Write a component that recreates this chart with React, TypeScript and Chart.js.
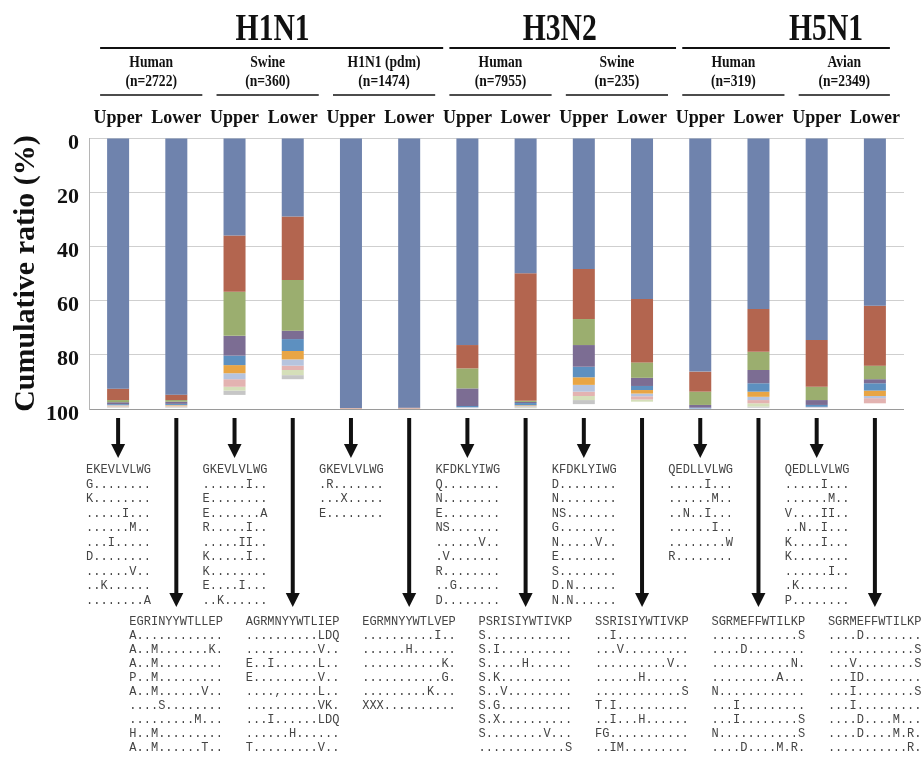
import React, { useEffect, useRef } from 'react';
import { Chart, registerables } from 'chart.js';

Chart.register(...registerables);

// ---------- data ----------
const positions = ['Upper', 'Lower', 'Upper', 'Lower', 'Upper', 'Lower', 'Upper', 'Lower', 'Upper', 'Lower', 'Upper', 'Lower', 'Upper', 'Lower'];

const groupNames = ['H1N1', 'H3N2', 'H5N1'];
const groupHostCounts = [3, 2, 2];
const hostNames = ['Human', 'Swine', 'H1N1 (pdm)', 'Human', 'Swine', 'Human', 'Avian'];
const hostCounts = ['(n=2722)', '(n=360)', '(n=1474)', '(n=7955)', '(n=235)', '(n=319)', '(n=2349)'];

const rank1 = [92.5, 94.7, 36.0, 29.0, 99.6, 99.5, 76.4, 49.9, 48.3, 59.4, 86.2, 63.1, 74.5, 61.9];
const rank2 = [4.2, 2.0, 20.7, 23.4, 0.2, 0.3, 8.6, 47.1, 18.5, 23.4, 7.4, 15.8, 17.3, 22.1];
const rank3 = [0.8, 0.6, 16.3, 18.7, 0, 0, 7.4, 0.4, 9.6, 5.7, 4.9, 6.7, 4.9, 5.0];
const rank4 = [0.7, 0.8, 7.3, 3.1, 0, 0, 6.5, 0.4, 8.0, 3.0, 1.0, 4.9, 1.8, 1.5];
const rank5 = [0.3, 0.4, 3.5, 4.4, 0, 0, 0.4, 0.8, 3.9, 1.5, 0.3, 3.1, 0.7, 2.7];
const rank6 = [0.1, 0.2, 3.0, 3.1, 0, 0, 0, 0.2, 2.8, 1.3, 0, 1.9, 0, 2.0];
const rank7 = [0.3, 0.2, 2.2, 2.3, 0, 0, 0.2, 0.3, 2.5, 1.0, 0.1, 1.2, 0.2, 0.8];
const rank8 = [0.2, 0.2, 2.8, 1.6, 0, 0, 0, 0.2, 1.6, 1.2, 0, 1.2, 0.1, 1.9];
const rank9 = [0.2, 0.2, 1.4, 1.9, 0, 0, 0, 0.2, 1.5, 0.8, 0, 1.2, 0, 0];
const rank10 = [0.2, 0.2, 1.6, 1.5, 0, 0, 0.2, 0.2, 1.5, 0, 0, 0.4, 0, 0];

const seriesValues = [rank1, rank2, rank3, rank4, rank5, rank6, rank7, rank8, rank9, rank10];
const seriesColors = ['#6f83ad', '#b3654f', '#9bae6f', '#7c6d93', '#5d90c0', '#e8a544', '#b6c4de', '#e3b3b1', '#d5dfb9', '#c6c6c6'];

const yTicks = [0, 20, 40, 60, 80, 100];

const upperSeqs = [
  ['EKEVLVLWG', 'G........', 'K........', '.....I...', '......M..', '...I.....', 'D........', '......V..', '..K......', '........A'],
  ['GKEVLVLWG', '......I..', 'E........', 'E.......A', 'R.....I..', '.....II..', 'K.....I..', 'K........', 'E....I...', '..K......'],
  ['GKEVLVLWG', '.R.......', '...X.....', 'E........'],
  ['KFDKLYIWG', 'Q........', 'N........', 'E........', 'NS.......', '......V..', '.V.......', 'R........', '..G......', 'D........'],
  ['KFDKLYIWG', 'D........', 'N........', 'NS.......', 'G........', 'N.....V..', 'E........', 'S........', 'D.N......', 'N.N......'],
  ['QEDLLVLWG', '.....I...', '......M..', '..N..I...', '......I..', '........W', 'R........'],
  ['QEDLLVLWG', '.....I...', '......M..', 'V....II..', '..N..I...', 'K....I...', 'K........', '......I..', '.K.......', 'P........'],
];

const lowerSeqs = [
  ['EGRINYYWTLLEP', 'A............', 'A..M.......K.', 'A..M.........', 'P..M.........', 'A..M......V..', '....S........', '.........M...', 'H..M.........', 'A..M......T..'],
  ['AGRMNYYWTLIEP', '..........LDQ', '..........V..', 'E..I......L..', 'E.........V..', '....,.....L..', '..........VK.', '...I......LDQ', '......H......', 'T.........V..'],
  ['EGRMNYYWTLVEP', '..........I..', '......H......', '...........K.', '...........G.', '.........K...', 'XXX..........'],
  ['PSRISIYWTIVKP', 'S............', 'S.I..........', 'S.....H......', 'S.K..........', 'S..V.........', 'S.G..........', 'S.X..........', 'S........V...', '............S'],
  ['SSRISIYWTIVKP', '..I..........', '...V.........', '..........V..', '......H......', '............S', 'T.I..........', '..I...H......', 'FG...........', '..IM.........'],
  ['SGRMEFFWTILKP', '............S', '....D........', '...........N.', '.........A...', 'N............', '...I.........', '...I........S', 'N...........S', '....D....M.R.'],
  ['SGRMEFFWTILKP', '....D........', '............S', '...V........S', '...ID........', '...I........S', '...I.........', '....D....M...', '....D....M.R.', '...........R.'],
];

// ---------- drawing helpers ----------
function drawText(ctx: CanvasRenderingContext2D, text: string, x: number, y: number, font: string, sx = 1, align: CanvasTextAlign = 'center', color = '#111') {
  ctx.save();
  ctx.translate(x, y);
  ctx.scale(sx, 1);
  ctx.font = font;
  ctx.fillStyle = color;
  ctx.textAlign = align;
  ctx.textBaseline = 'middle';
  ctx.fillText(text, 0, 0);
  ctx.restore();
}

function hLine(ctx: CanvasRenderingContext2D, x0: number, x1: number, y: number, w: number) {
  ctx.save();
  ctx.strokeStyle = '#111';
  ctx.lineWidth = w;
  ctx.beginPath();
  ctx.moveTo(x0, y);
  ctx.lineTo(x1, y);
  ctx.stroke();
  ctx.restore();
}

function arrow(ctx: CanvasRenderingContext2D, x: number, y0: number, y1: number) {
  ctx.save();
  ctx.fillStyle = '#111';
  ctx.strokeStyle = '#111';
  ctx.lineWidth = 4;
  ctx.beginPath();
  ctx.moveTo(x, y0);
  ctx.lineTo(x, y1 - 12);
  ctx.stroke();
  ctx.beginPath();
  ctx.moveTo(x - 7, y1 - 14);
  ctx.lineTo(x + 7, y1 - 14);
  ctx.lineTo(x, y1);
  ctx.closePath();
  ctx.fill();
  ctx.restore();
}

const figurePlugin = {
  id: 'figureAnnotations',
  afterDraw(chart: any) {
    const ctx: CanvasRenderingContext2D = chart.ctx;
    const xs = chart.scales.x;
    const px = (i: number) => xs.getPixelForValue(i);
    const lastHost = hostNames.length - 1;

    // host subgroup headers + underlines
    const ulLeft = (h: number) => px(2 * h) - 18;
    const ulRight = (h: number) => px(2 * h + 1) + (h === lastHost ? 15 : 26);
    hostNames.forEach((name, h) => {
      const c = (ulLeft(h) + ulRight(h)) / 2;
      drawText(ctx, name, c, 63, 'bold 16px "Liberation Serif"', 0.85);
      drawText(ctx, hostCounts[h], c, 82, 'bold 16px "Liberation Serif"', 0.85);
      hLine(ctx, ulLeft(h), ulRight(h), 95, 1.6);
    });

    // subtype headers + lines
    const shifts = [1, -3, 40];
    let h0 = 0;
    groupNames.forEach((g, gi) => {
      const h1 = h0 + groupHostCounts[gi] - 1;
      const left = ulLeft(h0);
      const right = ulRight(h1) + (h1 === lastHost ? 0 : 8);
      hLine(ctx, left, right, 48, 2);
      drawText(ctx, g, (left + right) / 2 + shifts[gi], 30, 'bold 38px "Liberation Serif"', 0.78);
      h0 = h1 + 1;
    });

    // arrows and sequence lists
    const mono = '12px "Liberation Mono"';
    positions.forEach((p, i) => {
      const cx = px(i);
      if (p === 'Upper') {
        arrow(ctx, cx, 418, 458);
        const rows = upperSeqs[i / 2];
        rows.forEach((r, k) => drawText(ctx, r, cx - 32, 470 + k * 14.5, mono, 1, 'left', '#444'));
      } else {
        arrow(ctx, cx, 418, 607);
        const rows = lowerSeqs[(i - 1) / 2];
        rows.forEach((r, k) => drawText(ctx, r, cx - 47, 622 + k * 14, mono, 1, 'left', '#444'));
      }
    });
  },
};

export default function App() {
  const ref = useRef<HTMLCanvasElement | null>(null);

  useEffect(() => {
    if (!ref.current) return;
    const chart = new Chart(ref.current, {
      type: 'bar',
      data: {
        labels: positions,
        datasets: seriesValues.map((vals, k) => ({
          label: 'Rank ' + (k + 1),
          data: vals,
          backgroundColor: seriesColors[k],
          borderWidth: 0,
          categoryPercentage: 1,
          barPercentage: 0.378,
        })),
      },
      options: {
        responsive: false,
        animation: false,
        layout: { padding: { left: 0, top: 100, right: 18, bottom: 353 } },
        plugins: { legend: { display: false }, tooltip: { enabled: false }, title: { display: false } },
        scales: {
          x: {
            position: 'top',
            stacked: true,
            grid: { display: false, drawTicks: false },
            border: { display: false },
            ticks: {
              autoSkip: false,
              maxRotation: 0,
              padding: 9,
              color: '#111',
              font: { family: '"Liberation Serif", serif', size: 18, weight: 'bold' },
            },
            afterFit: (s: any) => { s.height = 38; },
          },
          y: {
            stacked: true,
            reverse: true,
            min: 0,
            max: 100,
            grid: {
              drawTicks: false,
              color: (c: any) => (c.tick && c.tick.value === 100 ? '#9a9a9a' : '#cfcfcf'),
              lineWidth: 1,
            },
            border: { display: true, color: '#b5b5b5' },
            ticks: {
              stepSize: 10,
              padding: 10,
              labelOffset: 5,
              color: '#111',
              font: { family: '"Liberation Serif", serif', size: 22, weight: 'bold' },
              callback: (v: any) => (yTicks.includes(Number(v)) ? String(v) : ''),
            },
            title: {
              display: true,
              text: 'Cumulative ratio (%)',
              color: '#111',
              padding: { top: 8, bottom: 0 },
              font: { family: '"Liberation Serif", serif', size: 30, weight: 'bold' },
            },
            afterFit: (s: any) => { s.width = 89; },
          },
        },
      },
      plugins: [figurePlugin],
    });
    return () => chart.destroy();
  }, []);

  return (
    <div style={{ position: 'fixed', left: 0, top: 0, width: 922, height: 762, background: '#fff' }}>
      <canvas ref={ref} width={922} height={762} style={{ display: 'block' }} />
    </div>
  );
}
